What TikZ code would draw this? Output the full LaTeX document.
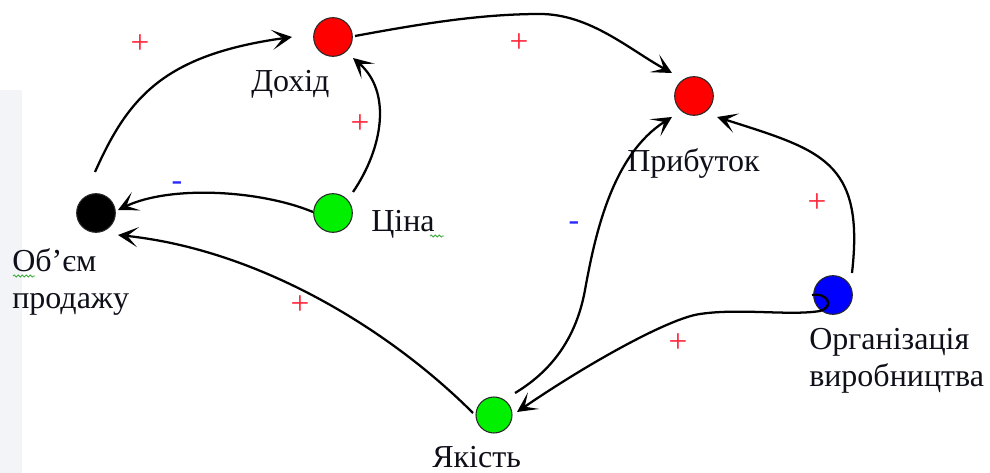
\documentclass[tikz,border=0pt]{standalone}
\usepackage{fontspec}
\setmainfont{Liberation Serif}
\usetikzlibrary{arrows.meta,calc,decorations.pathmorphing}
\definecolor{vred}{RGB}{255,0,0}
\definecolor{vgreen}{RGB}{0,240,0}
\definecolor{vblue}{RGB}{0,0,255}
\definecolor{rim}{RGB}{40,40,40}
\definecolor{txt}{RGB}{15,15,25}
\definecolor{plusc}{RGB}{255,40,60}
\definecolor{minusc}{RGB}{40,40,255}
\definecolor{squigc}{RGB}{60,170,60}
\definecolor{wm}{RGB}{243,244,248}
\begin{document}
\begin{tikzpicture}[x=0.75pt,y=-0.75pt,
  vtx/.style={circle,draw=rim,line width=0.8pt,minimum size=29pt,inner sep=0pt},
  lbl/.style={inner sep=0pt,font=\fontsize{24}{28}\selectfont,text=txt},
  arr/.style={line width=1.7pt,-{Stealth[length=15pt,width=15pt,inset=8pt]}},
  plussign/.style={text=plusc,font=\fontsize{25}{25}\selectfont,inner sep=0pt},
  minussign/.style={text=minusc,font=\fontsize{24}{24}\selectfont,inner sep=0pt},
  squig/.style={draw=squigc,line width=0.6pt,decorate,decoration={snake,amplitude=0.8pt,segment length=3pt}}
]
\useasboundingbox (0,0) rectangle (990,473);
\fill[wm] (0,90) rectangle (22,473);

% vertices
\node[vtx,fill=vred] (dox) at (333,37) {};
\node[vtx,fill=vred] (prib) at (694,96) {};
\node[vtx,fill=black] (obm) at (96,213) {};
\node[vtx,fill=vgreen] (cina) at (333,213) {};
\node[vtx,fill=vgreen,minimum size=27pt] (yak) at (494,415) {};
\node[vtx,fill=vblue] (org) at (833,295) {};

% labels
\node[lbl,anchor=base west] (ldox) at (251,92) {Дохід};
\node[lbl,anchor=base west] (lprib) at (627,172) {Прибуток};
\node[lbl,anchor=base west] (lcina) at (371,232) {Ціна};
\node[lbl,anchor=base west] (lobma) at (12,272) {Об’єм};
\node[lbl,anchor=base west] (lobmb) at (12,309) {продажу};
\node[lbl,anchor=base west] (lyak) at (432,468) {Якість};
\node[lbl,anchor=base west] (lorga) at (809,350) {Організація};
\node[lbl,anchor=base west] (lorgb) at (809,387) {виробництва};

% connectors
\draw[arr] ($(obm)+(-1,-41)$) .. controls (128,98) and (163,55) .. ($(dox)+(-41,0)$);
\draw[arr] ($(cina)+(20,-21)$) .. controls (383,148) and (392,92) .. ($(dox)+(20,21)$);
\draw[arr] ($(cina)+(-20,-1)$) .. controls (260,190) and (170,185) .. ($(obm)+(22,-3)$);
\draw[arr] ($(dox)+(22,-1)$) .. controls (420,24) and (480,14) .. (540,14)
  .. controls (590,14) and (630,50) .. ($(prib)+(-22,-23)$);
\draw[arr] ($(yak)+(21,-22)$) .. controls (545,375) and (575,345) .. (585,290)
  .. controls (595,235) and (612,155) .. ($(prib)+(-22,21)$);
\draw[arr] ($(org)+(19,-22)$) .. controls (865,160) and (820,150) .. ($(prib)+(23,21)$);
\draw[arr] ($(org)+(-21,0)$) .. controls (826,292) and (836,306) .. (820,311)
  .. controls (790,316) and (740,308) .. (700,314)
  .. controls (670,318) and (590,362) .. ($(yak)+(23,-3)$);
\draw[arr] ($(yak)+(-21,-2)$) .. controls (390,330) and (260,250) .. ($(obm)+(22,22)$);

% signs
\node[plussign] (s1) at (140,44) {+};
\node[plussign] (s2) at (360,124) {+};
\node[plussign] (s3) at (519,43) {+};
\node[plussign] (s4) at (817,203) {+};
\node[plussign] (s5) at (300,305) {+};
\node[plussign] (s6) at (678,343) {+};
\node[minussign] (s7) at (177,186) {-};
\node[minussign] (s8) at (574,226) {-};

% spell-check squiggles
\draw[squig] (13,276) -- (35,276);
\draw[squig] (430,236) -- (444,236);
\end{tikzpicture}
\end{document}
